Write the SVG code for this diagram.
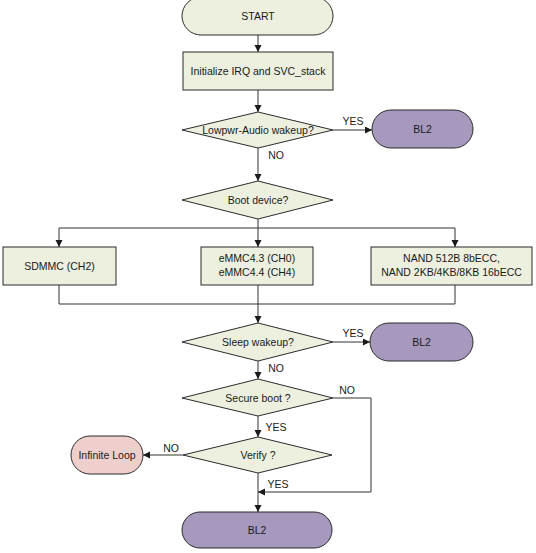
<svg xmlns="http://www.w3.org/2000/svg" width="536" height="553" viewBox="0 0 536 553">
<defs>
<marker id="arr" markerUnits="userSpaceOnUse" markerWidth="8" markerHeight="8" refX="7" refY="3.5" orient="auto">
<path d="M0,0 L7,3.5 L0,7 z" fill="#1a1a1a"/>
</marker>
<style>
.n{fill:#EDEFDF;stroke:#2b2b2b;stroke-width:1}
.p{fill:#A799BD;stroke:#2b2b2b;stroke-width:1}
.k{fill:#EFCFCC;stroke:#2b2b2b;stroke-width:1}
text{font-family:"Liberation Sans",Arial,sans-serif;font-size:10.5px;fill:#1a1a1a;text-anchor:middle}
.c path{fill:none;stroke:#333;stroke-width:1}
.a{marker-end:url(#arr)}
</style>
</defs>
<rect width="536" height="553" fill="#fff"/>
<g class="c" id="connectors">
<path class="a" d="M258,35 V52"/>
<path class="a" d="M258,90 V112"/>
<path class="a" d="M333,130 H372"/>
<path class="a" d="M258,148 V181"/>
<path class="a" d="M258,219 V247"/>
<path d="M59,228 H455"/>
<path class="a" d="M59,228 V247"/>
<path class="a" d="M455,228 V247"/>
<path d="M59,285 V304 H455 V285"/>
<path class="a" d="M258,285 V323"/>
<path class="a" d="M333,342 H370"/>
<path class="a" d="M258,361 V379"/>
<path class="a" d="M333,398 H371 V492 H258"/>
<path class="a" d="M258,416 V437"/>
<path class="a" d="M183,455 H143"/>
<path class="a" d="M258,473 V512"/>
</g>
<g id="labels">
<text x="353" y="125">YES</text>
<text x="276" y="159">NO</text>
<text x="353" y="337">YES</text>
<text x="276" y="372">NO</text>
<text x="347" y="394">NO</text>
<text x="276" y="431">YES</text>
<text x="171" y="452">NO</text>
<text x="278" y="488">YES</text>
</g>
<g id="start"><rect class="n" x="182" y="-3" width="151" height="38" rx="19"/><text x="258" y="20">START</text></g>
<g id="init"><rect class="n" x="183" y="52" width="150" height="38"/><text x="258" y="75">Initialize IRQ and SVC_stack</text></g>
<g id="lowpwr"><polygon class="n" points="182,130 258,112 333,130 258,148"/><text x="258" y="134">Lowpwr-Audio wakeup?</text></g>
<g id="bl2a"><rect class="p" x="372" y="110" width="101" height="38" rx="19"/><text x="422.5" y="133">BL2</text></g>
<g id="boot"><polygon class="n" points="182,200 258,181 333,200 258,219"/><text x="258" y="204">Boot device?</text></g>
<g id="sdmmc"><rect class="n" x="3" y="247" width="113" height="38"/><text x="59.5" y="270">SDMMC (CH2)</text></g>
<g id="emmc"><rect class="n" x="201" y="247" width="112" height="38"/><text x="257" y="262">eMMC4.3 (CH0)</text><text x="257" y="276">eMMC4.4 (CH4)</text></g>
<g id="nand"><rect class="n" x="371" y="247" width="161" height="38"/><text x="451.5" y="262">NAND 512B 8bECC,</text><text x="451.5" y="276">NAND 2KB/4KB/8KB 16bECC</text></g>
<g id="sleep"><polygon class="n" points="182,342 258,323 333,342 258,361"/><text x="258" y="346">Sleep wakeup?</text></g>
<g id="bl2b"><rect class="p" x="370" y="323" width="103" height="38" rx="19"/><text x="421.5" y="346">BL2</text></g>
<g id="secure"><polygon class="n" points="182,398 258,379 333,398 258,416"/><text x="258" y="402">Secure boot ?</text></g>
<g id="verify"><polygon class="n" points="183,455 258,437 332,455 258,473"/><text x="258" y="459">Verify ?</text></g>
<g id="loop"><rect class="k" x="71" y="436" width="72" height="38" rx="19"/><text x="107" y="459">Infinite Loop</text></g>
<g id="bl2c"><rect class="p" x="182" y="512" width="150" height="36" rx="18"/><text x="257" y="534">BL2</text></g>
</svg>
